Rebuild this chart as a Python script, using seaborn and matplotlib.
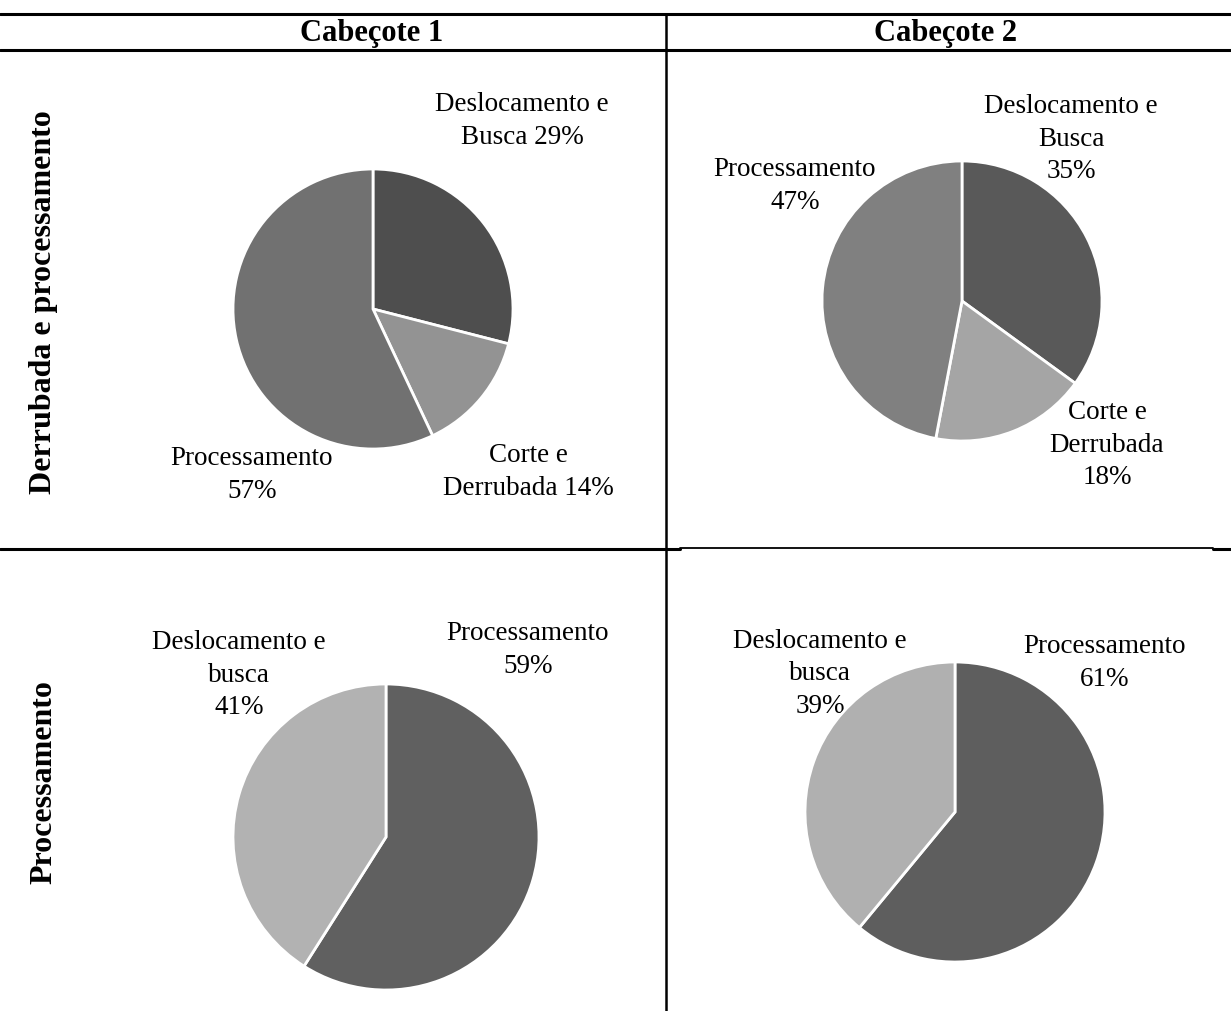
import matplotlib
matplotlib.use("Agg")
import matplotlib.pyplot as plt
import seaborn as sns

# Data (percent of cycle time)
col_titles = ["Cabeçote 1", "Cabeçote 2"]
row_titles = ["Derrubada e processamento", "Processamento"]

c1_fell_names = ["Deslocamento e\nBusca", "Corte e\nDerrubada", "Processamento"]
c1_fell_values = [29, 14, 57]
c2_fell_names = ["Deslocamento e\nBusca", "Corte e\nDerrubada", "Processamento"]
c2_fell_values = [35, 18, 47]
c1_proc_names = ["Processamento", "Deslocamento e\nbusca"]
c1_proc_values = [59, 41]
c2_proc_names = ["Processamento", "Deslocamento e\nbusca"]
c2_proc_values = [61, 39]

sns.set_theme(style="white")
plt.rcParams['font.family'] = ['Liberation Serif', 'DejaVu Serif']
plt.rcParams['text.color'] = 'black'

W, H = 1231, 1011
fig = plt.figure(figsize=(W / 100, H / 100), dpi=100)

# background axes in pixel coords for the table
bg = fig.add_axes([0, 0, 1, 1])
bg.set_xlim(0, W)
bg.set_ylim(H, 0)
bg.axis("off")

bg.plot([0, W], [14, 14], color="black", lw=2.2)
bg.plot([0, W], [50, 50], color="black", lw=2.2)
bg.plot([666, 666], [14, H], color="black", lw=1.8)
bg.plot([0, 680], [549, 549], color="black", lw=2.2)
bg.plot([680, 1213], [548, 548], color="black", lw=1.3)
bg.plot([1213, W], [549, 549], color="black", lw=2.2)

bg.text(372, 33, col_titles[0], ha="center", va="center", fontsize=22, fontweight="bold")
bg.text(945, 33, col_titles[1], ha="center", va="center", fontsize=22, fontweight="bold")
bg.text(44, 302, row_titles[0], ha="center", va="center", rotation=90, fontsize=23, fontweight="bold")
bg.text(44, 782, row_titles[1], ha="center", va="center", rotation=90, fontsize=23, fontweight="bold")


def pie_panel(cx, cy, r, names, values, colors, seps, label_pos):
    # axes box around the circle, in figure fractions
    ax = fig.add_axes([(cx - r) / W, 1 - (cy + r) / H, 2 * r / W, 2 * r / H])
    ax.pie(values, colors=colors, startangle=90, counterclock=False, radius=1,
           wedgeprops=dict(edgecolor="white", linewidth=2))
    ax.set_xlim(-1, 1)
    ax.set_ylim(-1, 1)
    ax.set_aspect("auto")
    ax.axis("off")
    for name, v, sep, (px, py) in zip(names, values, seps, label_pos):
        bg.text(px, py, f"{name}{sep}{v}%", ha="center", va="center",
                fontsize=19.5, linespacing=1.4, color="black", zorder=5)
    return ax


pie_panel(373, 309, 140, c1_fell_names, c1_fell_values,
          ["#4e4e4e", "#939393", "#717171"], [" ", " ", "\n"],
          [(522, 121), (528, 472), (252, 475)])
pie_panel(962, 301, 140, c2_fell_names, c2_fell_values,
          ["#595959", "#a5a5a5", "#808080"], ["\n", "\n", "\n"],
          [(1071, 139), (1107, 445), (795, 186)])
pie_panel(386, 837, 153, c1_proc_names, c1_proc_values,
          ["#606060", "#b2b2b2"], ["\n", "\n"],
          [(528, 650), (239, 675)])
pie_panel(955, 812, 150, c2_proc_names, c2_proc_values,
          ["#5e5e5e", "#b0b0b0"], ["\n", "\n"],
          [(1105, 663), (820, 674)])

fig.savefig("out.png", dpi=100, facecolor="white")
